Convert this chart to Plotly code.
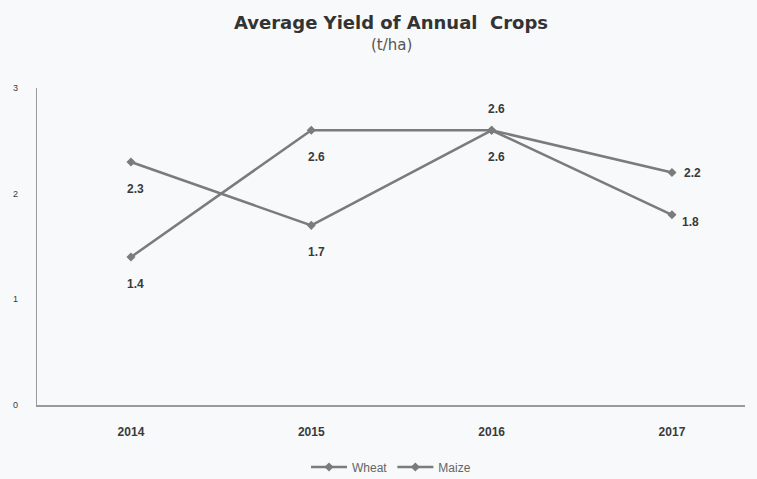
import plotly.graph_objects as go

years = ["2014", "2015", "2016", "2017"]
wheat = [2.3, 1.7, 2.6, 2.2]
maize = [1.4, 2.6, 2.6, 1.8]
y_ticks = [0, 1, 2, 3]

# label placement per point (style only)
wheat_pos = ["below", "below", "above", "right"]
maize_pos = ["below", "below", "below", "right_low"]

LINE = "#7b7b7b"
TXT = "#3a3a3a"
BG = "#f7f9fa"

fig = go.Figure()
for name, vals in [("Wheat", wheat), ("Maize", maize)]:
    fig.add_trace(go.Scatter(
        x=list(range(len(years))), y=vals, name=name, mode="lines+markers",
        line=dict(color=LINE, width=2.5),
        marker=dict(symbol="diamond", size=7, color=LINE),
    ))

shifts = {"below": (5, -27), "above": (5, 21), "right": (21, 0), "right_low": (19, -7)}
for vals, pos in [(wheat, wheat_pos), (maize, maize_pos)]:
    for i, (v, p) in enumerate(zip(vals, pos)):
        xs, ys = shifts[p]
        fig.add_annotation(x=i, y=v, text=f"{v:.1f}", showarrow=False,
                           xshift=xs, yshift=ys,
                           font=dict(family="Liberation Sans Narrow, Liberation Sans, Arial", size=12, color=TXT, weight="bold"))

fig.add_annotation(text="<b>Average Yield of Annual&nbsp; Crops</b>", xref="paper", yref="paper",
                   x=0.5, y=1.0, yshift=66, yanchor="middle", showarrow=False, xanchor="center",
                   font=dict(family="DejaVu Sans, Verdana", size=18, color="#333333"))
fig.add_annotation(text="(t/ha)", xref="paper", yref="paper",
                   x=0.5, y=1.0, yshift=43, yanchor="middle", showarrow=False, xanchor="center",
                   font=dict(family="DejaVu Sans, Liberation Sans", size=15, color="#555555"))

fig.update_layout(
    width=757, height=479,
    paper_bgcolor=BG, plot_bgcolor=BG,
    margin=dict(l=37, r=12, t=88, b=74, autoexpand=False),
    showlegend=True,
    legend=dict(orientation="h", x=0.5, xanchor="center", yref="container", y=0.025, yanchor="middle",
                font=dict(family="Liberation Sans, Arial", size=12, color="#666666"),
                itemwidth=36, bgcolor="rgba(0,0,0,0)"),
    xaxis=dict(range=[-0.521, 3.405], tickmode="array", tickvals=list(range(len(years))),
               ticktext=years, showgrid=False, zeroline=False, showline=True,
               linecolor="#9a9a9a", linewidth=1.5, ticks="", ticklabelstandoff=15,
               tickfont=dict(family="Liberation Sans Narrow, Liberation Sans, Arial", size=12, color=TXT, weight="bold")),
    yaxis=dict(range=[0, 3], tickvals=y_ticks, showgrid=False, zeroline=False,
               showline=True, linecolor="#9a9a9a", linewidth=1.2, ticks="",
               ticklabelstandoff=16,
               tickfont=dict(family="Liberation Sans, Arial", size=9, color=TXT)),
)

fig.write_html("out.html", config={"responsive": False, "displayModeBar": False},
               post_script="document.body.style.margin='0';document.body.style.overflow='hidden';")
